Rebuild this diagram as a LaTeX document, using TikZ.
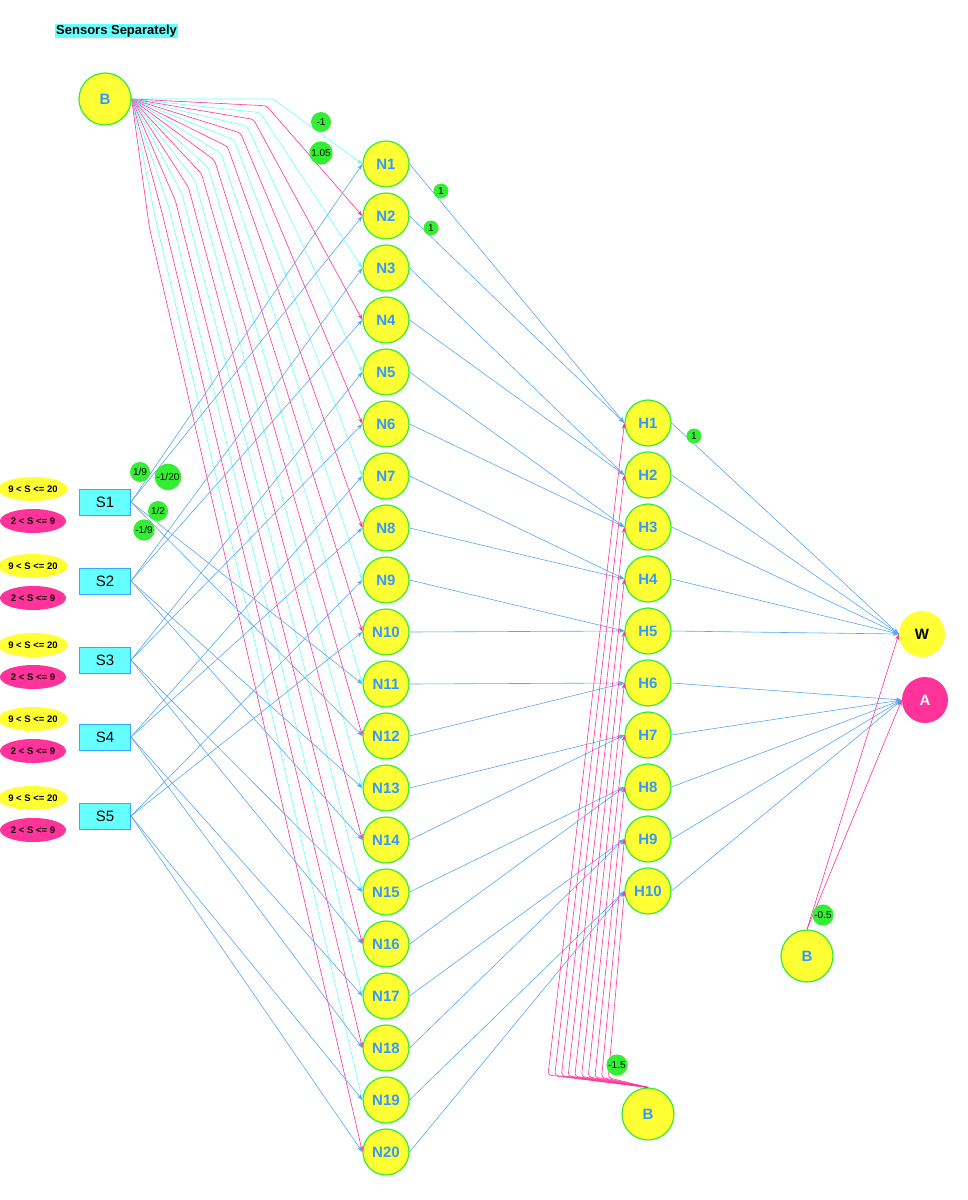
\documentclass[tikz,border=0pt]{standalone}
\usepackage{fontspec}
\setmainfont{Liberation Sans}
\usetikzlibrary{shapes,arrows.meta,positioning,calc}
\definecolor{nyellow}{HTML}{FFFF33}
\definecolor{ngreen}{HTML}{33EE33}
\definecolor{nblue}{HTML}{3399FF}
\definecolor{lblue}{HTML}{55A8F8}
\definecolor{lcyan}{HTML}{66FFFF}
\definecolor{lpink}{HTML}{FF3399}
\definecolor{sborder}{HTML}{33AAFF}

\begin{document}
\begin{tikzpicture}[
  x=1pt, y=-1pt,
  neuron/.style={circle, draw=ngreen, fill=nyellow, line width=1.2pt,
                 minimum size=46pt, inner sep=0pt, text=nblue,
                 font=\fontsize{15}{15}\selectfont\bfseries},
  bias/.style={neuron, minimum size=52pt},
  outnode/.style={circle, minimum size=46pt, inner sep=0pt,
                  font=\fontsize{15}{15}\selectfont\bfseries},
  sensor/.style={rectangle, draw=sborder, fill=lcyan, line width=1pt,
                 minimum width=51pt, minimum height=26pt,
                 font=\fontsize{15}{15}\selectfont},
  rangehi/.style={ellipse, fill=nyellow, minimum width=66pt, minimum height=24pt,
                  inner sep=0pt, font=\fontsize{9.5}{9.5}\selectfont\bfseries},
  rangelo/.style={rangehi, fill=lpink},
  wlabel/.style={circle, fill=ngreen, inner sep=1pt, minimum size=20pt,
                 font=\fontsize{10}{10}\selectfont},
  small/.style={minimum size=15pt},
  wire/.style={draw=lblue, line width=0.6pt, -{Stealth[length=6pt,width=4pt]}},
  cwire/.style={wire, draw=lcyan},
  pwire/.style={wire, draw=lpink},
]
  \useasboundingbox (0,0) rectangle (968,1200);

  \node[fill=lcyan, inner sep=1pt, anchor=west,
        font=\fontsize{13}{13}\selectfont\bfseries] (title) at (55,31)
    {Sensors Separately};

  % bias nodes
  \node[bias] (bTop) at (105,99) {B};
  \node[bias] (bHid) at (648,1114) {B};
  \node[bias] (bOut) at (807,956) {B};

  % sensors and their ranges
  \foreach \k/\y/\yh/\yl in {1/502/489/521, 2/581/566/598, 3/660/645/677,
                             4/737/719/751, 5/816/798/830} {
    \node[sensor] (s\k) at (105,\y) {S\k};
    \node[rangehi] (hi\k) at (33,\yh) {9 < S <= 20};
    \node[rangelo] (lo\k) at (33,\yl) {2 < S <= 9};
  }

  % first layer
  \foreach \i in {1,...,20}
    \node[neuron] (n\i) at (386,{164+52*(\i-1)}) {N\i};

  % second layer
  \foreach \j in {1,...,10}
    \node[neuron] (h\j) at (648,{423+52*(\j-1)}) {H\j};

  \node[outnode, fill=nyellow] (w) at (922,634) {W};
  \node[outnode, fill=lpink, text=white] (a) at (925,700) {A};

  % bias fan into the first layer
  \foreach \i in {1,...,20} {
    \pgfmathtruncatemacro{\odd}{mod(\i,2)}
    \ifnum\odd=1 \def\wc{cwire}\else\def\wc{pwire}\fi
    \draw[\wc, rounded corners=3pt] (bTop.east)
      -- ({273-6.5*(\i-1)},{99+6.8*(\i-1)}) -- (n\i.west);
  }

  % sensors into the first layer
  \foreach \k in {1,...,5} {
    \pgfmathtruncatemacro{\ta}{2*\k-1}
    \pgfmathtruncatemacro{\tb}{2*\k}
    \pgfmathtruncatemacro{\tc}{2*\k+9}
    \pgfmathtruncatemacro{\td}{2*\k+10}
    \foreach \t in {\ta,\tb,\tc,\td}
      \draw[wire] (s\k.east) -- (n\t.west);
  }

  % first layer into second layer
  \foreach \i in {1,...,20} {
    \pgfmathtruncatemacro{\j}{(\i+1)/2}
    \draw[wire] (n\i.east) -- (h\j.west);
  }

  % bias into second layer
  \foreach \j in {1,...,10}
    \draw[pwire, rounded corners=3pt] (bHid.north)
      -- ({548+6.7*(\j-1)},{1075+0.3*(\j-1)}) -- (h\j.west);

  % second layer into outputs
  \foreach \j in {1,...,5}
    \draw[wire] (h\j.east) -- (w.west);
  \foreach \j in {6,...,10}
    \draw[wire] (h\j.east) -- (a.west);

  \draw[pwire] (bOut.north) -- (w.west);
  \draw[pwire] (bOut.north) -- (a.west);

  % weights
  \node[wlabel] (wb1) at (321,122) {-1};
  \node[wlabel, minimum size=22pt] (wb2) at (321,153) {1.05};
  \node[wlabel] (ws1) at (140,472) {1/9};
  \node[wlabel, minimum size=24pt] (ws2) at (168,477) {-1/20};
  \node[wlabel] (ws3) at (158,511) {1/2};
  \node[wlabel] (ws4) at (144,530) {-1/9};
  \node[wlabel, small] (wn1) at (441,191) {1};
  \node[wlabel, small] (wn2) at (431,228) {1};
  \node[wlabel, small] (wh1) at (694,436) {1};
  \node[wlabel, minimum size=18pt] (wo) at (823,915) {-0.5};
  \node[wlabel] (wh) at (617,1065) {-1.5};
\end{tikzpicture}
\end{document}
